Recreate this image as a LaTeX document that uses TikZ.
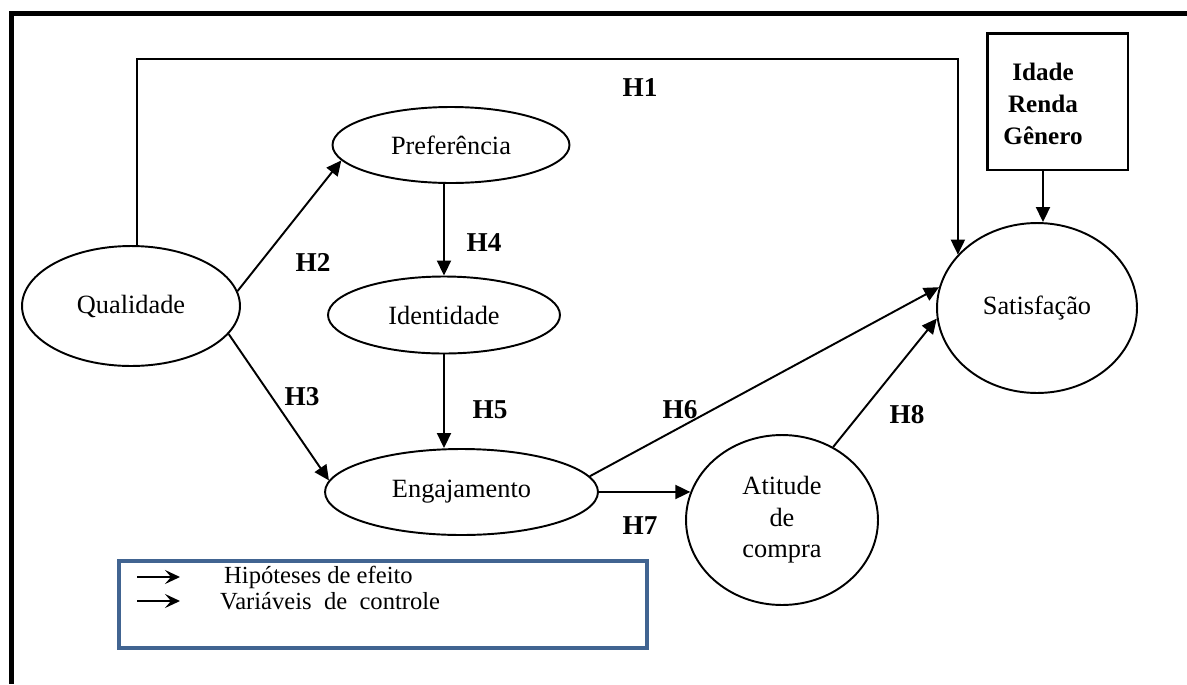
\documentclass[tikz,border=0pt]{standalone}
\usepackage{fontspec}
\setmainfont{Liberation Serif}
\usetikzlibrary{shapes.geometric,arrows.meta}

\definecolor{legendblue}{RGB}{65,100,145}

\begin{document}
\begin{tikzpicture}[x=0.02cm, y=-0.02cm,
	construct/.style={shape=ellipse, draw=black, line width=1.1pt, inner sep=0pt,
		font=\fontsize{15}{18}\selectfont, align=center},
	hyp/.style={-{Triangle[length=3mm,width=2.8mm]}, line width=1.1pt},
	hlabel/.style={font=\fontsize{15.5}{18}\selectfont\bfseries},
	legendarrow/.style={-{Stealth[length=3mm,width=2.8mm,inset=1.2mm]}, line width=1.3pt}]
	
	\useasboundingbox (0,0) rectangle (1187,684);
	\draw[line width=3.1pt] (1187,13.5) -- (11.5,13.5) -- (11.5,684);
	
	% constructs
	\node[construct, minimum width=4.36cm, minimum height=2.4cm] (qual) at (131,306) {Qualidade};
	\node[construct, minimum width=4.74cm, minimum height=1.52cm] (pref) at (451,145) {Preferência};
	\node[construct, minimum width=4.64cm, minimum height=1.54cm] (iden) at (444,315) {Identidade};
	\node[construct, minimum width=5.46cm, minimum height=1.72cm] (enga) at (461.5,492) {Engajamento};
	\node[construct, minimum width=3.84cm, minimum height=3.4cm] (atit) at (782,520) {Atitude\\de\\compra};
	\node[construct, minimum width=4cm, minimum height=3.4cm] (sat) at (1037,308) {Satisfação};
	
	% control variables
	\node[draw=black, line width=1.7pt, minimum width=2.82cm, minimum height=2.74cm] (ctrl) at (1057.5,101.5) {};
	\node[font=\fontsize{14.3}{18.4}\selectfont\bfseries, align=center] (ctrltxt) at (1043,104) {Idade\\Renda\\Gênero};
	
	% hypotheses
	\coordinate (corner) at (137,59);
	\draw[hyp] (qual.north -| corner) |- (corner) -| (sat.146);
	\draw[hyp] (qual.8) -- (pref.188);
	\draw[hyp] (qual.-16) -- (enga.175);
	\draw[hyp] (pref.south -| iden.north) -- (iden.north);
	\draw[hyp] (iden.south) -- (iden.south |- enga.north);
	\draw[hyp] (enga.7) -- (sat.168);
	\draw[hyp] (enga.east) -- (atit.163);
	\draw[hyp] (atit.55) -- (sat.186);
	\draw[hyp] (ctrl.south -| ctrltxt) -- (ctrltxt |- sat.north);
	
	\node[hlabel] (h1) at (640,88) {H1};
	\node[hlabel] (h2) at (313,262) {H2};
	\node[hlabel] (h3) at (302,397) {H3};
	\node[hlabel] (h4) at (484,243) {H4};
	\node[hlabel] (h5) at (490,410) {H5};
	\node[hlabel] (h6) at (680,410) {H6};
	\node[hlabel] (h7) at (640,526) {H7};
	\node[hlabel] (h8) at (907,415) {H8};
	
	% legend
	\node[draw=legendblue, line width=2pt, minimum width=10.56cm, minimum height=1.74cm] (legend) at (383,604.5) {};
	\coordinate (la1) at (137,577);
	\coordinate (lb1) at (180,577);
	\coordinate (la2) at (137,601);
	\coordinate (lb2) at (180,601);
	\draw[legendarrow] (la1) -- (lb1);
	\draw[legendarrow] (la2) -- (lb2);
	\node[anchor=west, font=\fontsize{14}{17}\selectfont] (efeito) at (218,577) {Hipóteses de efeito};
	\node[anchor=west, font=\fontsize{14}{17}\selectfont] (controle) at (214,601) {Variáveis\ \ de\ \ controle};
	
\end{tikzpicture}
\end{document}
